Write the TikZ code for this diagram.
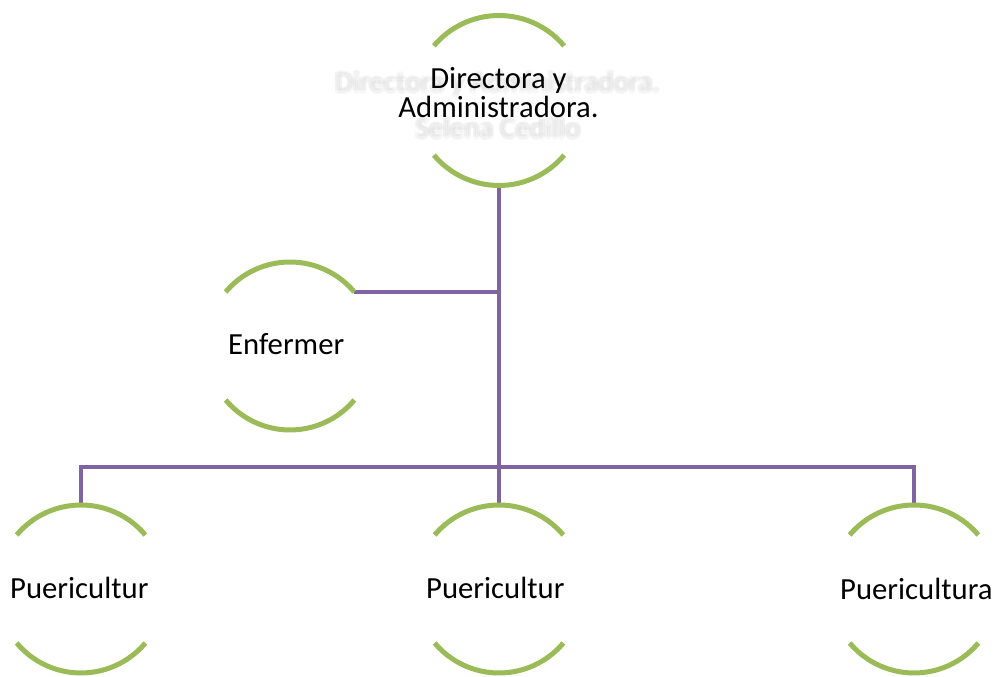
\documentclass[tikz,border=0pt]{standalone}
\usepackage{fontspec}
\setmainfont{Carlito}
\definecolor{gr}{HTML}{9BBB59}
\definecolor{pu}{HTML}{8064A2}
\begin{document}
\begin{tikzpicture}[x=1pt,y=1pt,
  orgbox/.style={circle, inner sep=0pt, outer sep=0pt, minimum size=#1},
  arcline/.style={draw=gr, line width=5pt},
  link/.style={draw=pu, line width=4pt},
  lbl/.style={font=\fontsize{30.7}{29}\selectfont, text=black, anchor=base west, inner sep=0pt},
  ghost/.style={font=\fontsize{29}{29}\selectfont, text=black!22, anchor=base, inner sep=0pt, opacity=0.1}]
\useasboundingbox (0,0) rectangle (996,677);
% nodes (circles, only arcs drawn)
\node[orgbox=170pt] (dir) at (499,576.5) {};
\node[orgbox=168pt] (enf) at (290,331) {};
\node[orgbox=168pt] (p1) at (81,88) {};
\node[orgbox=168pt] (p2) at (499,88) {};
\node[orgbox=168pt] (p3) at (914,88) {};
\coordinate (bus) at (499,210);
% connectors
\draw[link] (dir.south) -- (p2.north);
\draw[link] (enf.40) -- (enf.40 -| dir.south);
\draw[link] (p1.north) -- (p1.north |- bus) -- (p3.north |- bus) -- (p3.north);
% arcs
\draw[arcline] (dir.40) arc[start angle=40,end angle=140,radius=85];
\draw[arcline] (dir.220) arc[start angle=220,end angle=320,radius=85];
\foreach \n in {enf,p1,p2,p3}{
  \draw[arcline] (\n.40) arc[start angle=40,end angle=140,radius=84];
  \draw[arcline] (\n.220) arc[start angle=220,end angle=320,radius=84];
}
% blurred background text
\foreach \dx/\dy [count=\i] in {0/0,-2.5/0,2.5/0,0/-2.5,0/2.5,-1.8/-1.8,1.8/1.8,-1.8/1.8,1.8/-1.8}{
  \node[ghost] (gA\i) at (497.5+\dx,585+\dy) {Directora y Administradora.};
  \node[ghost] (gB\i) at (498+\dx,539+\dy) {Selena Cedillo};
}
% labels
\node[lbl, anchor=base] (t1) at (498.5,588) {Directora y};
\node[lbl, anchor=base] (t2) at (498.5,559) {Administradora.};
\node[lbl] (te) at (228,322) {Enfermer};
\node[lbl] (tp1) at (10,78) {Puericultur};
\node[lbl] (tp2) at (426,78) {Puericultur};
\node[lbl] (tp3) at (840,77) {Puericultura};
\end{tikzpicture}
\end{document}
